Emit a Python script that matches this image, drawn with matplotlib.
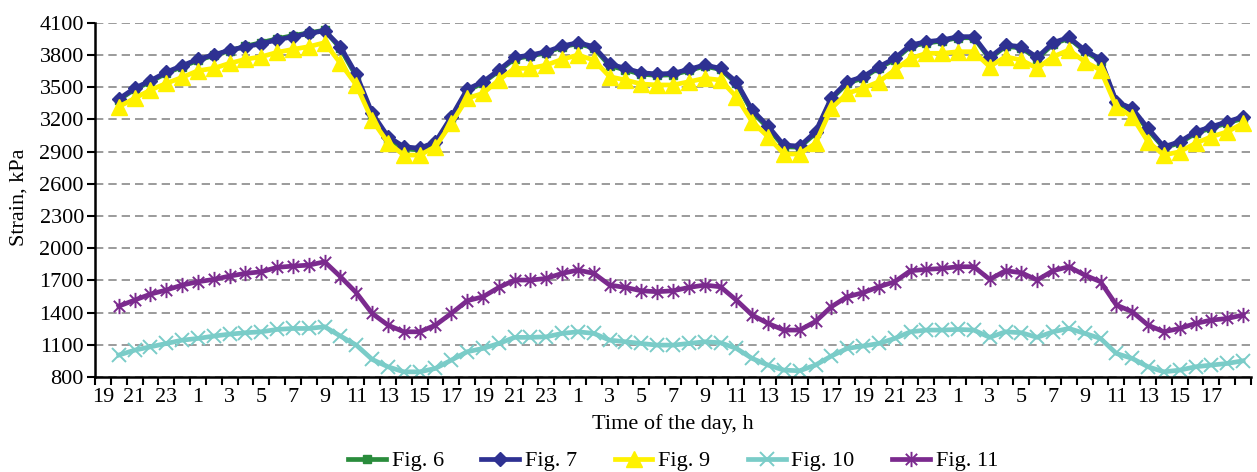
import matplotlib
matplotlib.use("Agg")
import matplotlib.pyplot as plt
import numpy as np
from matplotlib.path import Path

plt.rcParams['font.family'] = ['Liberation Serif', 'DejaVu Serif']

###################
### Chart data. ###
###################

# hour of the day for each category slot on the x axis (first slot has no data)
hours = [(19 + i) % 24 for i in range(73)]
xPos = list(range(1, 73))

fig6 = [3380, 3480, 3550, 3630, 3690, 3750, 3795, 3840, 3880, 3915, 3950, 3980, 4005, 4030,
        3860, 3600, 3240, 3020, 2925, 2915, 2975, 3210, 3465, 3540, 3650, 3765, 3790, 3820, 3875, 3905,
        3865, 3700, 3660, 3620, 3610, 3615, 3655, 3695, 3665, 3535, 3270, 3120, 2945, 2940, 3070,
        3390, 3535, 3585, 3680, 3755, 3880, 3910, 3930, 3960, 3960, 3765, 3880, 3865, 3765, 3900,
        3955, 3835, 3745, 3350, 3290, 3100, 2935, 2980, 3070, 3120, 3165, 3210]

fig7 = [3390, 3490, 3560, 3640, 3700, 3760, 3800, 3845, 3875, 3905, 3940, 3970, 4000, 4025,
        3877, 3620, 3258, 3040, 2945, 2930, 2990, 3224, 3480, 3550, 3659, 3777, 3799, 3830, 3883, 3914,
        3877, 3715, 3675, 3634, 3622, 3628, 3666, 3706, 3675, 3550, 3287, 3137, 2960, 2950, 3084,
        3400, 3550, 3597, 3690, 3768, 3892, 3923, 3939, 3970, 3970, 3777, 3892, 3877, 3777, 3914,
        3964, 3846, 3759, 3364, 3302, 3116, 2945, 2991, 3084, 3131, 3178, 3224]

fig9 = [3317, 3396, 3473, 3535, 3591, 3653, 3675, 3722, 3759, 3783, 3824, 3852, 3877, 3914,
        3722, 3520, 3193, 2982, 2867, 2867, 2945, 3163, 3396, 3442, 3566, 3675, 3675, 3706, 3759, 3799,
        3752, 3597, 3566, 3529, 3520, 3520, 3550, 3582, 3566, 3410, 3178, 3038, 2877, 2877, 2977,
        3302, 3442, 3489, 3550, 3659, 3768, 3815, 3815, 3830, 3830, 3690, 3783, 3752, 3675, 3783,
        3846, 3737, 3659, 3317, 3224, 2991, 2867, 2898, 2977, 3038, 3084, 3163]

fig10 = [1004, 1050, 1081, 1112, 1143, 1159, 1181, 1199, 1212, 1221, 1243, 1252, 1252, 1268,
         1181, 1097, 964, 895, 848, 848, 880, 957, 1035, 1066, 1112, 1169, 1169, 1174, 1206, 1221,
         1206, 1143, 1128, 1112, 1097, 1097, 1112, 1128, 1119, 1066, 973, 911, 864, 858, 911,
         995, 1066, 1088, 1112, 1159, 1221, 1237, 1237, 1243, 1237, 1169, 1221, 1212, 1169, 1221,
         1252, 1206, 1159, 1019, 973, 895, 848, 864, 895, 911, 926, 951]

fig11 = [1460, 1516, 1572, 1610, 1656, 1687, 1709, 1740, 1765, 1780, 1821, 1833, 1842, 1873,
         1734, 1585, 1392, 1283, 1221, 1221, 1283, 1392, 1510, 1547, 1634, 1703, 1703, 1718, 1765, 1796,
         1765, 1656, 1634, 1603, 1594, 1603, 1634, 1656, 1640, 1516, 1377, 1299, 1237, 1237, 1317,
         1454, 1547, 1585, 1640, 1687, 1790, 1802, 1811, 1827, 1827, 1709, 1790, 1771, 1703, 1790,
         1827, 1749, 1687, 1470, 1408, 1283, 1221, 1252, 1299, 1330, 1345, 1377]

yTicks = list(range(800, 4101, 300))

##########################
### Build the figure.  ###
##########################

FS = 16

# asterisk marker like the spreadsheet one (x with a vertical bar)
starMarker = Path([(-1, -1), (1, 1), (-1, 1), (1, -1), (0, -1.35), (0, 1.35)],
                  [Path.MOVETO, Path.LINETO, Path.MOVETO, Path.LINETO, Path.MOVETO, Path.LINETO])

fig = plt.figure(figsize=(12.57, 4.72), dpi=100)
ax = fig.add_axes([0.0756, 0.2013, 0.9196, 0.7506])

ax.plot(xPos, fig6, color='#2a8c3c', lw=3.4, marker='s', ms=6, label='Fig. 6')
ax.plot(xPos, fig7, color='#2e3192', lw=3.4, marker='D', ms=7, label='Fig. 7')
ax.plot(xPos, fig9, color='#fff200', lw=3.4, marker='^', ms=11, label='Fig. 9')
ax.plot(xPos, fig10, color='#7accc8', lw=3.4, marker='x', ms=10, mew=1.4, label='Fig. 10')
ax.plot(xPos, fig11, color='#7b2a8e', lw=3.4, marker=starMarker, ms=11, mew=1.4,
        mfc='none', label='Fig. 11')

ax.set_xlim(-0.5, 72.5)
ax.set_ylim(800, 4100)
ax.set_yticks(yTicks)
ax.set_yticklabels([str(v) for v in yTicks], fontsize=FS)
ax.yaxis.grid(True, linestyle=(0, (5, 3)), color='#8a8a8a', lw=1.2)
ax.set_axisbelow(True)

# tick marks at category boundaries, labels in the middle of every second slot
ax.set_xticks(np.arange(-0.5, 73, 1))
ax.set_xticklabels([])
labelPos = list(range(0, 71, 2))
ax.set_xticks(labelPos, minor=True)
ax.set_xticklabels([str(hours[i]) for i in labelPos], minor=True, fontsize=FS)
ax.tick_params(axis='x', which='major', direction='out', length=6, width=1.5)
ax.tick_params(axis='x', which='minor', length=0, pad=8)
ax.tick_params(axis='y', direction='out', length=6, width=1.5, pad=2)

for side in ['top', 'right']:
    ax.spines[side].set_visible(False)
for side in ['left', 'bottom']:
    ax.spines[side].set_linewidth(1.8)
    ax.spines[side].set_color('black')

fig.text(0.5355, 1 - 424 / 472, 'Time of the day, h', ha='center', va='center', fontsize=FS)
fig.text(0.015, 1 - 197 / 472, 'Strain, kPa', ha='center', va='center', rotation=90, fontsize=FS)

fig.legend(loc='center', bbox_to_anchor=(0.5355, 1 - 461 / 472), ncol=5, frameon=False,
           fontsize=FS, handlelength=1.7, handletextpad=0.25, columnspacing=1.7, borderpad=0)

fig.savefig('out.png', dpi=100)
